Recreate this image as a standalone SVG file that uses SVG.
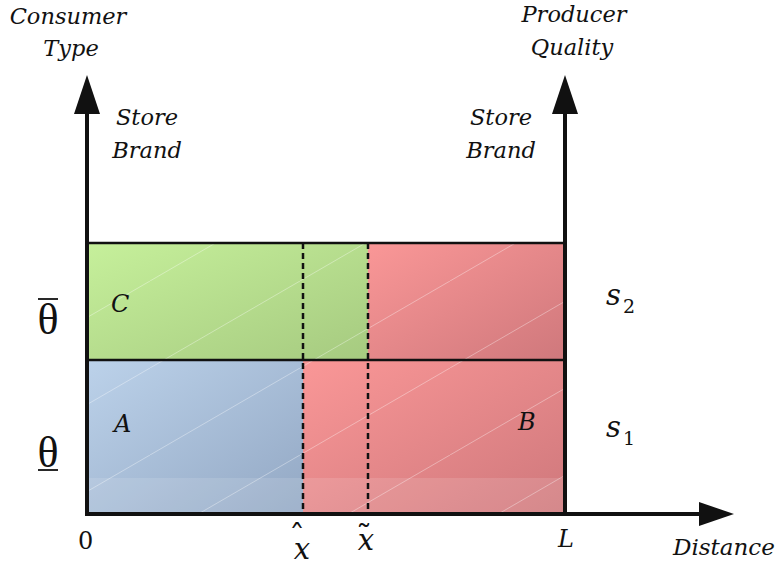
<svg xmlns="http://www.w3.org/2000/svg" width="778" height="565" viewBox="0 0 778 565">
<style>
.t{font-family:"DejaVu Serif","Liberation Serif",serif;font-style:italic;font-size:22.5px;fill:#111;text-anchor:middle}
.m{font-family:"DejaVu Serif","Liberation Serif",serif;font-style:italic;font-size:24px;fill:#111}
.s{font-family:"DejaVu Serif","Liberation Serif",serif;font-style:italic;font-size:29px;fill:#111}
.sub{font-style:normal;font-size:19px}
.acc{font-style:normal;font-size:32px}
.g{font-family:"Liberation Serif",serif;font-size:44px;fill:#111;text-anchor:middle}
.b{stroke:#111;stroke-width:2.5;fill:none}
.d{stroke:#111;stroke-width:2.5;stroke-dasharray:6,4;fill:none}
.ax{stroke:#111;stroke-width:4;fill:none}
</style>
<defs>
<linearGradient id="gG" x1="0" y1="0" x2="1" y2="1"><stop offset="0" stop-color="#c6f09b"/><stop offset="1" stop-color="#a6ca80"/></linearGradient>
<linearGradient id="gB" x1="0" y1="0" x2="1" y2="1"><stop offset="0" stop-color="#bcd2ea"/><stop offset="1" stop-color="#93a8c4"/></linearGradient>
<linearGradient id="gR" x1="0" y1="0" x2="1" y2="1"><stop offset="0" stop-color="#fa9797"/><stop offset="1" stop-color="#cf787c"/></linearGradient>
<pattern id="h" width="150" height="87" patternUnits="userSpaceOnUse" patternTransform="translate(0,20)">
<line x1="0" y1="87" x2="150" y2="0" stroke="#fff" stroke-opacity="0.35" stroke-width="1"/>
</pattern>
</defs>
<g id="regions">
<g id="C"><rect x="87" y="243" width="281" height="117" fill="url(#gG)"/><rect x="87" y="243" width="281" height="117" fill="url(#h)"/></g>
<g id="S2B"><rect x="368" y="243" width="197" height="117" fill="url(#gR)"/><rect x="368" y="243" width="197" height="117" fill="url(#h)"/></g>
<g id="A"><rect x="87" y="360" width="216" height="153" fill="url(#gB)"/><rect x="87" y="360" width="216" height="153" fill="url(#h)"/></g>
<g id="B"><rect x="303" y="360" width="262" height="153" fill="url(#gR)"/><rect x="303" y="360" width="262" height="153" fill="url(#h)"/></g>
<rect x="87" y="478" width="478" height="35" fill="#fff" fill-opacity="0.12"/>
</g>
<g id="connectors">
<line class="b" x1="87" y1="243" x2="565" y2="243"/>
<line class="b" x1="87" y1="360" x2="565" y2="360"/>
<line class="d" x1="303" y1="243" x2="303" y2="513"/>
<line class="d" x1="368" y1="243" x2="368" y2="513"/>
<line class="ax" x1="87" y1="515" x2="87" y2="108"/>
<polygon points="87,75 74,114 100,114" fill="#111"/>
<line class="ax" x1="565" y1="515" x2="565" y2="108"/>
<polygon points="565,75 552,114 578,114" fill="#111"/>
<line class="ax" x1="85" y1="514" x2="705" y2="514"/>
<polygon points="734,514 699,502 699,526" fill="#111"/>
</g>
<g id="labels">
<text class="t" x="68" y="24">Consumer</text>
<text class="t" x="71" y="56">Type</text>
<text class="t" x="147" y="125">Store</text>
<text class="t" x="147" y="158">Brand</text>
<text class="t" x="574" y="22">Producer</text>
<text class="t" x="572" y="55">Quality</text>
<text class="t" x="501" y="125">Store</text>
<text class="t" x="501" y="158">Brand</text>
<text class="g" x="48" y="334">θ</text>
<line x1="38" y1="299" x2="58" y2="299" stroke="#111" stroke-width="1.8"/>
<text class="g" x="48" y="467">θ</text>
<line x1="38" y1="470" x2="58" y2="470" stroke="#111" stroke-width="1.8"/>
<text class="m" x="111" y="312">C</text>
<text class="m" x="114" y="432">A</text>
<text class="m" x="518" y="430">B</text>
<text class="s" x="606" y="305">s<tspan class="sub" dx="2" dy="8">2</tspan></text>
<text class="s" x="606" y="437">s<tspan class="sub" dx="2" dy="8">1</tspan></text>
<text class="m" x="78" y="549" style="font-style:normal">0</text>
<text class="s" x="289" y="559">x<tspan class="acc" dx="-21" dy="-11">ˆ</tspan></text>
<text class="s" x="356" y="550">x<tspan class="acc" dx="-18" dy="-3">˜</tspan></text>
<text class="m" x="558" y="547">L</text>
<text class="m" x="673" y="555" style="font-size:23px">Distance</text>
</g>
</svg>
